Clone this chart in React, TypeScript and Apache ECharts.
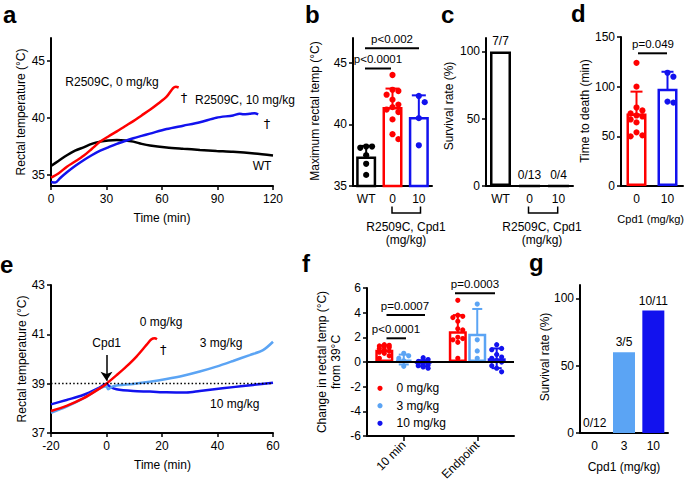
import React, { useEffect, useRef } from "react";
import * as echarts from "echarts";

const FONT = "'Liberation Sans', Arial, Helvetica, sans-serif";
const RED = "#FF0000";
const BLUE = "#1212EE";
const LBLUE = "#5BA4F4";
const BLACK = "#000000";

// ---- Panel a: rectal temperature vs time (min) ----
const aWT: number[][] = [[0, 35.76], [4, 36.2], [8.6, 36.7], [13, 37.1], [17.6, 37.4], [22, 37.7], [26.6, 37.9], [31, 38.0], [35.6, 38.03], [40, 38.0], [44.5, 37.9], [49, 37.7], [53.5, 37.55], [62.5, 37.38], [71.5, 37.27], [80.5, 37.17], [89.5, 37.08], [98.4, 37.0], [110, 36.85], [120, 36.68]];
const aR0: number[][] = [[0, 34.74], [4, 35.1], [8.6, 35.7], [13, 36.15], [17.6, 36.65], [22, 37.25], [26.6, 37.9], [31, 38.35], [35.6, 38.8], [40, 39.25], [44.5, 39.7], [49, 40.2], [53.5, 40.7], [58, 41.25], [62.5, 41.85], [66, 42.6], [67.5, 42.72], [69, 42.65]];
const aR10: number[][] = [[0, 34.35], [2.3, 34.3], [5, 34.7], [8.6, 35.2], [13, 35.75], [17.6, 36.26], [22, 36.7], [26.6, 37.1], [31, 37.4], [35.6, 37.7], [40, 37.95], [44.5, 38.2], [49, 38.4], [53.5, 38.6], [62.5, 39.0], [71.5, 39.3], [80.5, 39.6], [89.4, 40.0], [98.4, 40.2], [102, 40.35], [104, 40.3], [107.4, 40.35], [110, 40.4], [112, 40.3]];

// ---- Panel b: maximum rectal temp ----
const bCategories = ["WT", "0", "10"];
const bMeans = [37.4, 41.4, 40.6];
const bSD = [0.85, 1.5, 1.75];
const bPtsWT = [38.2, 38.2, 38.1, 37.5, 36.8, 35.9];
const bPtsR0 = [44.0, 42.8, 42.7, 42.4, 42.0, 41.6, 41.4, 41.2, 41.0, 40.4, 39.2, 38.8];
const bPtsR10 = [42.3, 41.8, 40.5, 38.3];

// ---- Panel c: survival ----
const cCategories = ["WT", "0", "10"];
const cSurvival = [100, 0, 0];
const cLabels = ["7/7", "0/13", "0/4"];

// ---- Panel d: time to death ----
const dCategories = ["0", "10"];
const dMeans = [73, 98];
const dSD = [22, 17];
const dPts0 = [124, 100, 79, 76, 73, 71, 70, 67, 64, 54, 51, 50];
const dPts10 = [114, 110, 85, 84];

// ---- Panel e: rectal temperature around Cpd1 ----
const eR0: number[][] = [[-20, 37.89], [-14.4, 38.1], [-8.4, 38.4], [-2.4, 38.81], [0, 39.0], [3.7, 39.35], [7.2, 39.7], [10.8, 40.1], [14.4, 40.57], [16.2, 40.8], [17.4, 40.84], [18.2, 40.8]];
const eR3: number[][] = [[-20, 37.82], [-14.4, 38.07], [-8.4, 38.4], [-2.4, 38.81], [0, 38.9], [0.6, 38.77], [2.4, 38.9], [9.6, 38.99], [15.6, 39.08], [21.6, 39.19], [27.6, 39.32], [33.6, 39.49], [39.6, 39.69], [45.6, 39.92], [51.6, 40.16], [56.4, 40.36], [60, 40.7]];
const eR10: number[][] = [[-20, 38.16], [-14.4, 38.34], [-8.4, 38.54], [-2.4, 38.85], [0, 39.0], [1.2, 38.88], [3.6, 38.77], [9.6, 38.7], [15.6, 38.68], [21.6, 38.65], [28.8, 38.64], [33.6, 38.7], [39.6, 38.78], [45.6, 38.86], [52.8, 38.95], [60, 39.04]];

// ---- Panel f: change in rectal temp from 39 °C ----
const fCategories = ["10 min", "Endpoint"];
const fMeans0 = [1.0, 2.5];
const fSD0 = [0.35, 1.3];
const fMeans3 = [0.2, 2.3];
const fSD3 = [0.4, 2.0];
const fMeans10 = [-0.1, 0.3];
const fSD10 = [0.25, 0.8];
const fPts0 = [[1.4, 1.35, 1.3, 1.25, 1.2, 1.1, 1.0, 0.9, 0.8, 0.7, 0.5, 0.3], [5.0, 3.8, 3.7, 3.6, 3.3, 2.7, 2.6, 2.0, 1.9, 1.8, 1.6, 0.3]];
const fPts3 = [[0.7, 0.5, 0.3, 0.1, -0.35], [4.7, 1.8, 0.9, 0.3]];
const fPts10 = [[0.35, 0.2, 0.05, 0, -0.05, -0.1, -0.2, -0.25, -0.3, -0.4, -0.5], [1.4, 1.1, 1.0, 0.6, 0.4, 0.3, 0.1, 0, -0.3, -0.5, -0.8]];

// ---- Panel g: survival ----
const gCategories = ["0", "3", "10"];
const gSurvival = [0, 60, 91];
const gLabels = ["0/12", "3/5", "10/11"];

// deterministic beeswarm offsets (px) for dots
function swarm(vals: number[], pxPerUnit: number, dot: number, maxOff: number): number[] {
  const placed: number[][] = [];
  const step = dot * 0.95;
  return vals.map((v) => {
    const y = v * pxPerUnit;
    let chosen = 0;
    let best = -1;
    let found = false;
    for (let k = 0; k <= 8 && !found; k++) {
      const cands = k === 0 ? [0] : [k * step, -k * step];
      for (const c of cands) {
        if (Math.abs(c) > maxOff) continue;
        const minD = placed.reduce((m, p) => Math.min(m, Math.hypot(p[0] - c, p[1] - y)), Infinity);
        if (minD >= dot) { chosen = c; found = true; break; }
        if (minD > best) { best = minD; chosen = c; }
      }
    }
    placed.push([chosen, y]);
    return chosen;
  });
}

function errorSeries(axis: number, data: number[][], colors: string[], cap: number) {
  return {
    type: "custom", xAxisIndex: axis, yAxisIndex: axis, z: 1, silent: true,
    data, encode: { x: 0, y: 1 },
    renderItem: (params: any, api: any) => {
      const c = api.value(0), m = api.value(1), sd = api.value(2), off = api.value(3);
      const top = api.coord([c, m + sd]);
      const bot = api.coord([c, m - sd]);
      const x = top[0] + off;
      const st = { stroke: colors[params.dataIndex], lineWidth: 2 };
      return {
        type: "group", children: [
          { type: "line", shape: { x1: x, y1: top[1], x2: x, y2: bot[1] }, style: st },
          { type: "line", shape: { x1: x - cap, y1: top[1], x2: x + cap, y2: top[1] }, style: st },
          { type: "line", shape: { x1: x - cap, y1: bot[1], x2: x + cap, y2: bot[1] }, style: st },
        ],
      };
    },
  };
}

function dotSeries(axis: number, data: number[][], colors: string[], r: number) {
  return {
    type: "custom", xAxisIndex: axis, yAxisIndex: axis, z: 3, silent: true,
    data, encode: { x: 0, y: 1 },
    renderItem: (params: any, api: any) => {
      const p = api.coord([api.value(0), api.value(1)]);
      return { type: "circle", shape: { cx: p[0] + api.value(2), cy: p[1], r }, style: { fill: colors[params.dataIndex] } };
    },
  };
}

function buildDots(groups: number[][], cats: number[], pxPerUnit: number, dot: number, maxOff: number, shift: number[], cols: string[]) {
  const data: number[][] = [];
  const colors: string[] = [];
  groups.forEach((g, gi) => {
    const offs = swarm(g, pxPerUnit, dot, maxOff);
    g.forEach((v, i) => { data.push([cats[gi], v, offs[i] + shift[gi]]); colors.push(cols[gi]); });
  });
  return { data, colors };
}

const axisLine = { show: true, onZero: false, lineStyle: { color: BLACK, width: 2 } };
const axisTick = { show: true, length: 4, lineStyle: { color: BLACK, width: 1.5 } };
const labelStyle = { color: BLACK, fontSize: 12, fontFamily: FONT };

function valAxis(grid: number, min: number, max: number, extra: any = {}) {
  return {
    type: "value", gridIndex: grid, min, max, splitLine: { show: false },
    axisLine, axisTick: { ...axisTick, ...(extra.tick || {}) },
    axisLabel: { ...labelStyle, margin: 6, ...(extra.label || {}) },
    ...(extra.interval ? { interval: extra.interval } : {}),
  };
}
function catAxis(grid: number, data: string[], extra: any = {}) {
  return {
    type: "category", gridIndex: grid, data, splitLine: { show: false },
    axisLine, axisTick: { show: false, ...(extra.tick || {}) },
    axisLabel: { ...labelStyle, margin: 7, interval: 0, ...(extra.label || {}) },
  };
}

function txt(text: string, x: number, y: number, o: any = {}) {
  return { type: "text", x, y, silent: true, rotation: o.rot || 0, style: { text, fill: BLACK, fontSize: o.size || 12, fontFamily: o.family || FONT, fontWeight: o.bold ? "bold" : "normal", align: o.align || "center", verticalAlign: "middle" } };
}
function vtxt(text: string, x: number, y: number) { return txt(text, x, y, { rot: Math.PI / 2 }); }
function hline(x1: number, x2: number, y: number, w = 2) {
  return { type: "line", silent: true, shape: { x1, y1: y, x2, y2: y }, style: { stroke: BLACK, lineWidth: w } };
}
function bracket(x1: number, x2: number, y: number) {
  return { type: "polyline", silent: true, shape: { points: [[x1, y - 6.5], [x1, y], [x2, y], [x2, y - 6.5]] }, style: { stroke: BLACK, lineWidth: 1.5, fill: null } };
}
function letter(t: string, x: number, y: number) { return txt(t, x, y, { size: 24, bold: true, align: "left" }); }
function dagger(x: number, y: number) { return txt("†", x, y, { size: 13, family: "'DejaVu Sans', sans-serif" }); }

export default function App() {
  const ref = useRef<HTMLDivElement>(null);
  useEffect(() => {
    document.body.style.margin = "0";
    const chart = echarts.init(ref.current!, undefined, { renderer: "svg" });

    const bColors = [BLACK, RED, BLUE];
    const bDots = buildDots([bPtsWT, bPtsR0, bPtsR10], [0, 1, 2], 12.3, 6.2, 7, [0, 0, 0], bColors);
    const dColors = [RED, BLUE];
    const dDots = buildDots([dPts0, dPts10], [0, 1], 0.993, 6.2, 7.5, [0, 0], dColors);

    const fBarW = 18;
    const fStep = fBarW * 1.08;
    const fGroups = [
      { means: fMeans0, sd: fSD0, pts: fPts0, color: RED, shift: -fStep },
      { means: fMeans3, sd: fSD3, pts: fPts3, color: LBLUE, shift: 0 },
      { means: fMeans10, sd: fSD10, pts: fPts10, color: BLUE, shift: fStep },
    ];

    const fSeries: any[] = [];
    fGroups.forEach((g, gi) => {
      fSeries.push(errorSeries(5, g.means.map((m, i) => [i, m, g.sd[i], g.shift]), g.means.map(() => g.color), 5));
      fSeries.push({
        type: "bar", xAxisIndex: 5, yAxisIndex: 5, z: 2, barWidth: fBarW, barGap: "8%", silent: true,
        data: g.means, itemStyle: { color: "#fff", borderColor: g.color, borderWidth: 2.5 },
        ...(gi === 2 ? { markLine: { silent: true, symbol: "none", label: { show: false }, lineStyle: { color: BLACK, width: 2, type: "solid" }, data: [{ yAxis: 0 }] } } : {}),
      });
      const dd = buildDots(g.pts, [0, 1], 12.33, 5.2, 6.5, [g.shift, g.shift], [g.color, g.color]);
      fSeries.push(dotSeries(5, dd.data, dd.colors, 2.6));
    });

    const lineS = (axis: number, data: number[][], color: string, extra: any = {}) => ({
      type: "line", xAxisIndex: axis, yAxisIndex: axis, data, symbol: "none", smooth: 0.3, silent: true,
      lineStyle: { color, width: 2.5 }, itemStyle: { color }, z: 2, ...extra,
    });

    const option: any = {
      animation: false,
      textStyle: { fontFamily: FONT },
      grid: [
        { left: 51, top: 38, width: 222, height: 148 },
        { left: 353, top: 38, width: 79, height: 148 },
        { left: 486, top: 38, width: 87, height: 148 },
        { left: 621, top: 37, width: 62, height: 149 },
        { left: 51, top: 285, width: 222, height: 148 },
        { left: 367, top: 288, width: 147, height: 148 },
        { left: 580, top: 285, width: 88, height: 148 },
      ].map((g) => ({ ...g, containLabel: false, outerBoundsMode: "none" })),
      xAxis: [
        valAxis(0, 0, 120, { interval: 30, label: { margin: 7 } }),
        catAxis(1, bCategories),
        catAxis(2, cCategories),
        catAxis(3, dCategories),
        valAxis(4, -20, 60, { interval: 20, label: { margin: 7 } }),
        catAxis(5, fCategories, { tick: { show: true, alignWithLabel: true, length: 5, lineStyle: { color: BLACK, width: 1.5 } }, label: { rotate: 45, margin: 7 } }),
        catAxis(6, gCategories),
      ],
      yAxis: [
        valAxis(0, 34, 47, { tick: { customValues: [35, 40, 45] }, label: { customValues: [35, 40, 45] } }),
        valAxis(1, 35, 47, { tick: { customValues: [35, 40, 45] }, label: { customValues: [35, 40, 45] } }),
        valAxis(2, 0, 110, { tick: { customValues: [0, 50, 100] }, label: { customValues: [0, 50, 100] } }),
        valAxis(3, 0, 150, { interval: 50 }),
        valAxis(4, 37, 43, { interval: 2 }),
        valAxis(5, -6, 6, { interval: 2 }),
        valAxis(6, 0, 110, { tick: { customValues: [0, 50, 100] }, label: { customValues: [0, 50, 100] } }),
      ],
      series: [
        // a
        lineS(0, aWT, BLACK),
        lineS(0, aR10, BLUE),
        lineS(0, aR0, RED),
        // b
        errorSeries(1, bMeans.map((m, i) => [i, m, bSD[i], 0]), bColors, 7),
        {
          type: "bar", xAxisIndex: 1, yAxisIndex: 1, z: 2, barWidth: 20, silent: true,
          data: bMeans.map((m, i) => ({ value: m, itemStyle: { borderColor: bColors[i] } })),
          itemStyle: { color: "#fff", borderWidth: 2.5 },
        },
        dotSeries(1, bDots.data, bDots.colors, 3.1),
        // c
        {
          type: "bar", xAxisIndex: 2, yAxisIndex: 2, barWidth: 21, silent: true,
          data: cSurvival,
          itemStyle: { color: "#fff", borderColor: BLACK, borderWidth: 2.5 },
          label: { show: true, position: "top", distance: 4, color: BLACK, fontSize: 12, fontFamily: FONT, formatter: (p: any) => cLabels[p.dataIndex] },
        },
        // d
        errorSeries(3, dMeans.map((m, i) => [i, m, dSD[i], 0]), dColors, 6),
        {
          type: "bar", xAxisIndex: 3, yAxisIndex: 3, z: 2, barWidth: 20, silent: true,
          data: dMeans.map((m, i) => ({ value: m, itemStyle: { borderColor: dColors[i] } })),
          itemStyle: { color: "#fff", borderWidth: 2.5 },
        },
        dotSeries(3, dDots.data, dDots.colors, 3.1),
        // e
        lineS(4, eR10, BLUE, {
          markLine: { silent: true, symbol: "none", label: { show: false }, lineStyle: { color: BLACK, width: 1.3, type: [1.5, 2.2] }, data: [{ yAxis: 39 }] },
        }),
        lineS(4, eR3, LBLUE),
        lineS(4, eR0, RED, {
          markLine: { silent: true, symbol: ["none", "arrow"], symbolSize: 9, label: { show: false }, lineStyle: { color: BLACK, width: 1.5, type: "solid" }, data: [[{ coord: [0, 40.16] }, { coord: [0, 39.12] }]] },
        }),
        // f
        ...fSeries,
        // g
        {
          type: "bar", xAxisIndex: 6, yAxisIndex: 6, barWidth: 22, silent: true,
          data: gSurvival.map((v, i) => ({ value: v, itemStyle: { color: [LBLUE, LBLUE, BLUE][i] } })),
          label: { show: true, position: "top", distance: 4, color: BLACK, fontSize: 12, fontFamily: FONT, formatter: (p: any) => gLabels[p.dataIndex] },
        },
      ],
      graphic: [
        // panel letters
        letter("a", 3, 14), letter("b", 305, 14), letter("c", 441, 14), letter("d", 571, 13),
        letter("e", 0, 264), letter("f", 302, 263), letter("g", 529, 262),
        // a
        vtxt("Rectal temperature (°C)", 21, 112),
        txt("Time (min)", 162, 218),
        txt("R2509C, 0 mg/kg", 112, 82),
        dagger(184, 97),
        txt("R2509C, 10 mg/kg", 245, 99.5),
        dagger(267, 123),
        txt("WT", 262, 166),
        // b
        vtxt("Maximum rectal temp (°C)", 315, 111),
        txt("p<0.002", 392, 38.5, { size: 11.5 }),
        hline(365, 419, 48.3),
        txt("p<0.0001", 378, 59, { size: 11.5 }),
        hline(365, 391, 68.5),
        bracket(392, 420.5, 213),
        txt("R2509C, Cpd1", 406, 227),
        txt("(mg/kg)", 406, 240),
        // c
        vtxt("Survival rate (%)", 449, 106),
        bracket(528.5, 557.7, 213),
        txt("R2509C, Cpd1", 542, 227),
        txt("(mg/kg)", 542, 240),
        // d
        vtxt("Time to death (min)", 585, 111),
        txt("p=0.049", 653, 44, { size: 11.5 }),
        hline(638, 667, 53.3),
        txt("Cpd1 (mg/kg)", 684, 219, { size: 11, align: "right" }),
        // e
        vtxt("Rectal temperature (°C)", 22, 359),
        txt("Time (min)", 162.5, 465),
        txt("0 mg/kg", 161, 322),
        txt("Cpd1", 106.7, 343),
        dagger(163.3, 349.5),
        txt("3 mg/kg", 221, 343),
        txt("10 mg/kg", 234.7, 404),
        // f
        { type: "text", x: 329, y: 362, rotation: Math.PI / 2, silent: true, style: { text: "Change in rectal temp (°C)\nfrom 39°C", fill: BLACK, fontSize: 12, fontFamily: FONT, align: "center", verticalAlign: "middle", lineHeight: 14 } },
        txt("p<0.0001", 396, 329, { size: 11.5 }),
        hline(386.5, 406, 338.3),
        txt("p=0.0007", 405, 305.7, { size: 11.5 }),
        hline(386.5, 425, 315),
        txt("p=0.0003", 475, 284, { size: 11.5 }),
        hline(455, 495, 293.3),
        { type: "circle", silent: true, shape: { cx: 380, cy: 388.3, r: 2.6 }, style: { fill: RED } },
        { type: "circle", silent: true, shape: { cx: 380, cy: 405.7, r: 2.6 }, style: { fill: LBLUE } },
        { type: "circle", silent: true, shape: { cx: 380, cy: 423.3, r: 2.6 }, style: { fill: BLUE } },
        txt("0 mg/kg", 396.5, 388.3, { align: "left" }),
        txt("3 mg/kg", 396.5, 405.7, { align: "left" }),
        txt("10 mg/kg", 396.5, 423.3, { align: "left" }),
        // g
        vtxt("Survival rate (%)", 545, 357),
        txt("Cpd1 (mg/kg)", 624, 467),
      ],
    };
    chart.setOption(option);
    return () => chart.dispose();
  }, []);
  return <div ref={ref} style={{ position: "absolute", left: 0, top: 0, width: 685, height: 485, background: "#fff" }} />;
}
